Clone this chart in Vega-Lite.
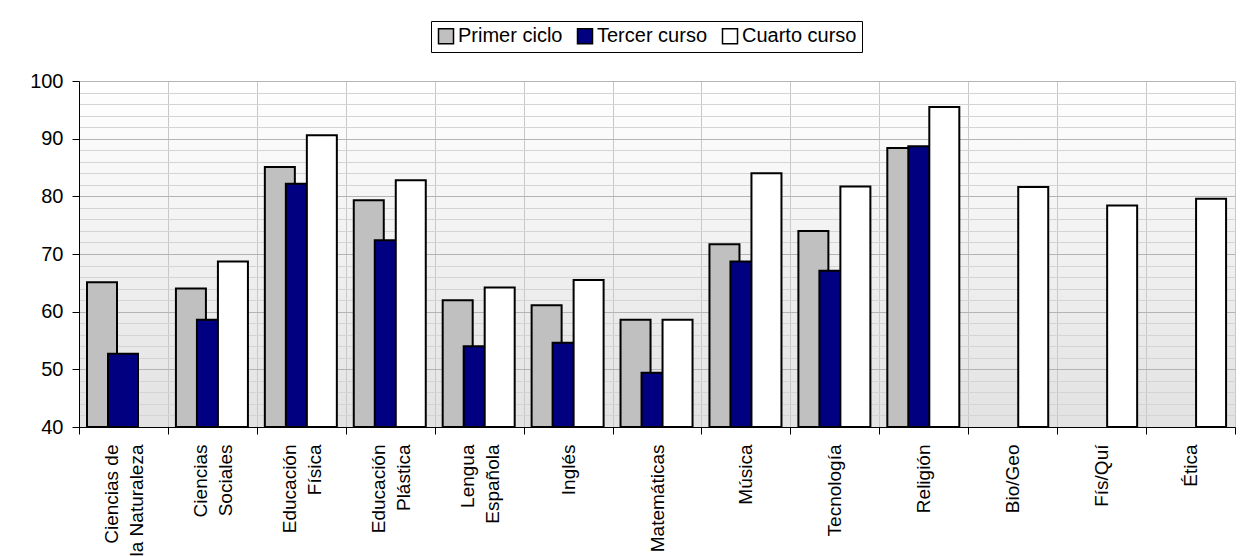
{
  "$schema": "https://vega.github.io/schema/vega-lite/v6.json",
  "width": 1156,
  "height": 346,
  "autosize": {"type": "none"},
  "padding": {"left": 79, "top": 81, "right": 9, "bottom": 129},
  "background": "white",
  "config": {
    "font": "Liberation Sans",
    "view": {
      "stroke": null,
      "fill": {"gradient": "linear", "x1": 0, "y1": 0, "x2": 0, "y2": 1,
        "stops": [{"offset": 0, "color": "#ffffff"}, {"offset": 1, "color": "#e2e2e2"}]}
    }
  },
  "data": {
    "values": [
      {"asignatura": "Ciencias de la Naturaleza", "curso": "Primer ciclo", "valor": 65.1},
      {"asignatura": "Ciencias Sociales", "curso": "Primer ciclo", "valor": 64.0},
      {"asignatura": "Educación Física", "curso": "Primer ciclo", "valor": 85.1},
      {"asignatura": "Educación Plástica", "curso": "Primer ciclo", "valor": 79.3},
      {"asignatura": "Lengua Española", "curso": "Primer ciclo", "valor": 62.0},
      {"asignatura": "Inglés", "curso": "Primer ciclo", "valor": 61.1},
      {"asignatura": "Matemáticas", "curso": "Primer ciclo", "valor": 58.6},
      {"asignatura": "Música", "curso": "Primer ciclo", "valor": 71.7},
      {"asignatura": "Tecnología", "curso": "Primer ciclo", "valor": 74.0},
      {"asignatura": "Religión", "curso": "Primer ciclo", "valor": 88.4},
      {"asignatura": "Ciencias de la Naturaleza", "curso": "Tercer curso", "valor": 52.7},
      {"asignatura": "Ciencias Sociales", "curso": "Tercer curso", "valor": 58.6},
      {"asignatura": "Educación Física", "curso": "Tercer curso", "valor": 82.2},
      {"asignatura": "Educación Plástica", "curso": "Tercer curso", "valor": 72.4},
      {"asignatura": "Lengua Española", "curso": "Tercer curso", "valor": 54.0},
      {"asignatura": "Inglés", "curso": "Tercer curso", "valor": 54.6},
      {"asignatura": "Matemáticas", "curso": "Tercer curso", "valor": 49.4},
      {"asignatura": "Música", "curso": "Tercer curso", "valor": 68.7},
      {"asignatura": "Tecnología", "curso": "Tercer curso", "valor": 67.1},
      {"asignatura": "Religión", "curso": "Tercer curso", "valor": 88.7},
      {"asignatura": "Ciencias Sociales", "curso": "Cuarto curso", "valor": 68.7},
      {"asignatura": "Educación Física", "curso": "Cuarto curso", "valor": 90.6},
      {"asignatura": "Educación Plástica", "curso": "Cuarto curso", "valor": 82.8},
      {"asignatura": "Lengua Española", "curso": "Cuarto curso", "valor": 64.2},
      {"asignatura": "Inglés", "curso": "Cuarto curso", "valor": 65.5},
      {"asignatura": "Matemáticas", "curso": "Cuarto curso", "valor": 58.6},
      {"asignatura": "Música", "curso": "Cuarto curso", "valor": 84.0},
      {"asignatura": "Tecnología", "curso": "Cuarto curso", "valor": 81.7},
      {"asignatura": "Religión", "curso": "Cuarto curso", "valor": 95.5},
      {"asignatura": "Bio/Geo", "curso": "Cuarto curso", "valor": 81.6},
      {"asignatura": "Fís/Quí", "curso": "Cuarto curso", "valor": 78.4},
      {"asignatura": "Ética", "curso": "Cuarto curso", "valor": 79.6}
    ]
  },
  "mark": {"type": "bar", "width": 30, "stroke": "black", "strokeWidth": 2},
  "encoding": {
    "x": {
      "field": "asignatura",
      "type": "nominal",
      "sort": ["Ciencias de la Naturaleza", "Ciencias Sociales", "Educación Física", "Educación Plástica", "Lengua Española", "Inglés", "Matemáticas", "Música", "Tecnología", "Religión", "Bio/Geo", "Fís/Quí", "Ética"],
      "scale": {"paddingInner": 0, "paddingOuter": 0},
      "axis": {
        "title": null,
        "labelAngle": -90,
        "labelFont": "Liberation Sans",
        "labelFontSize": 19,
        "labelColor": "black",
        "labelLineHeight": 25,
        "labelPadding": 10,
        "labelOffset": {"condition": {"test": "indexof(datum.label, ' ') > 0", "value": -12}, "value": 0},
        "labelExpr": "datum.label == 'Ciencias de la Naturaleza' ? ['Ciencias de', 'la Naturaleza'] : (indexof(datum.label, ' ') > 0 ? split(datum.label, ' ') : datum.label)",
        "tickBand": "extent",
        "tickSize": 7,
        "tickColor": "black",
        "domainColor": "black",
        "grid": true,
        "gridColor": "#c8c8c8",
        "labelOverlap": false
      }
    },
    "xOffset": {
      "field": "curso",
      "type": "nominal",
      "sort": ["Primer ciclo", "Tercer curso", "Cuarto curso"],
      "scale": {"domain": ["Primer ciclo", "Tercer curso", "Cuarto curso"], "range": [12.5, 75.5], "paddingInner": 0, "paddingOuter": 0}
    },
    "y": {
      "field": "valor",
      "type": "quantitative",
      "scale": {"domain": [40, 100], "zero": false, "nice": false},
      "axis": {
        "title": null,
        "values": [40, 42, 44, 46, 48, 50, 52, 54, 56, 58, 60, 62, 64, 66, 68, 70, 72, 74, 76, 78, 80, 82, 84, 86, 88, 90, 92, 94, 96, 98, 100],
        "labelExpr": "datum.value % 10 === 0 ? datum.label : ''",
        "labelFont": "Liberation Sans",
        "labelFontSize": 20,
        "labelColor": "black",
        "labelPadding": 9,
        "labelOverlap": false,
        "tickSize": 7,
        "tickColor": "black",
        "tickOpacity": {"condition": {"test": "datum.value % 10 === 0", "value": 1}, "value": 0},
        "domainColor": "black",
        "grid": true,
        "gridColor": {"condition": {"test": "datum.value % 10 === 0", "value": "#b4b4b4"}, "value": "#d4d4d4"}
      }
    },
    "y2": {"datum": 40},
    "color": {
      "field": "curso",
      "type": "nominal",
      "sort": ["Primer ciclo", "Tercer curso", "Cuarto curso"],
      "scale": {"domain": ["Primer ciclo", "Tercer curso", "Cuarto curso"], "range": ["#C0C0C0", "#000080", "#FFFFFF"]},
      "legend": {
        "title": null,
        "orient": "none",
        "legendX": 352,
        "legendY": -60,
        "direction": "horizontal",
        "strokeColor": "black",
        "fillColor": "white",
        "padding": 5,
        "symbolType": "square",
        "symbolSize": 225,
        "symbolStrokeColor": "black",
        "symbolStrokeWidth": 1.5,
        "symbolOpacity": 1,
        "labelFont": "Liberation Sans",
        "labelFontSize": 20,
        "labelColor": "black",
        "labelOffset": 2,
        "columnPadding": 11
      }
    }
  }
}
